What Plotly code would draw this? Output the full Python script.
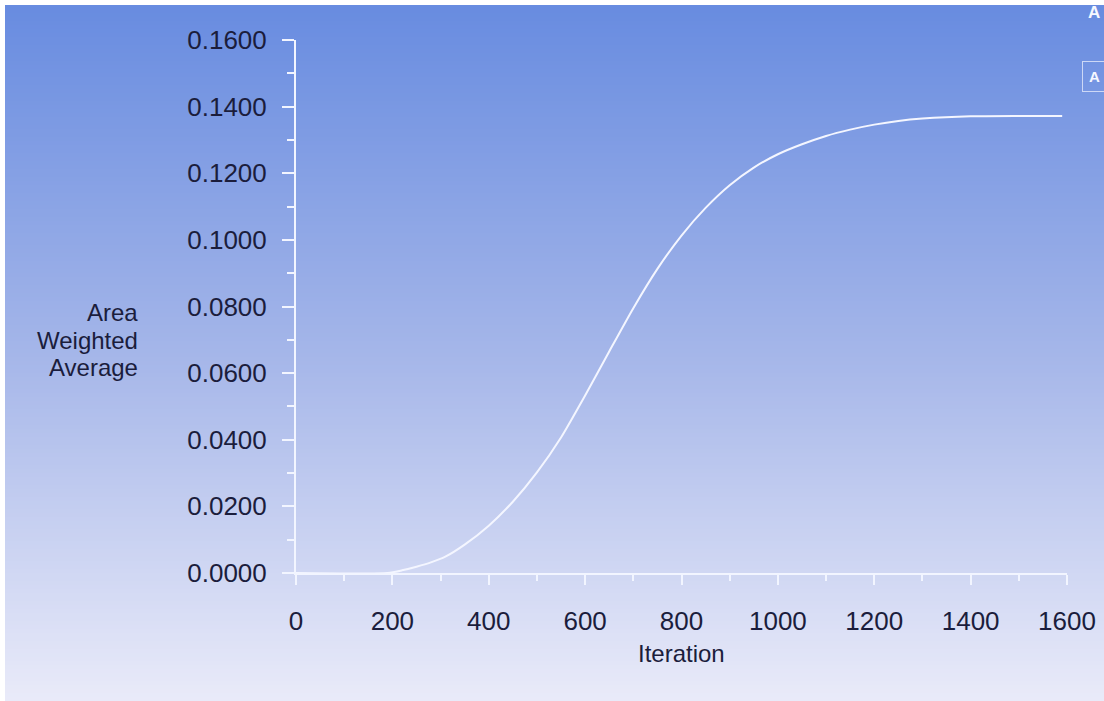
import plotly.graph_objects as go

# Convergence history of the monitored surface quantity
iterations = [0, 190, 220, 250, 280, 310, 350, 400, 450, 500, 550, 600, 650,
              700, 750, 800, 850, 900, 950, 1000, 1050, 1100, 1150, 1200,
              1250, 1300, 1400, 1500, 1590]
area_weighted_avg = [0.0, 0.0, 0.0008, 0.0019, 0.0032, 0.0049, 0.0085, 0.0142,
                     0.0214, 0.0302, 0.0407, 0.0533, 0.0665, 0.0795, 0.0913,
                     0.1013, 0.1096, 0.1164, 0.1217, 0.1257, 0.1287, 0.1312,
                     0.1331, 0.1346, 0.1357, 0.1364, 0.1371, 0.1372, 0.1372]

x_ticks = [0, 200, 400, 600, 800, 1000, 1200, 1400, 1600]
y_ticks = [0.0, 0.02, 0.04, 0.06, 0.08, 0.10, 0.12, 0.14, 0.16]
y_title_lines = ["Area", "Weighted", "Average"]
x_title = "Iteration"

W, H = 1104, 701
ML, MR, MT, MB = 296, 37, 40, 128
PW, PH = W - ML - MR, H - MT - MB

FONT = "Liberation Sans, Arial, sans-serif"
TEXT_COL = "#1b1d3c"
AXIS_COL = "#f2f5ff"


def px_x(px):
    return (px - ML) / PW


def px_y(py):
    return (H - MB - py) / PH


# vertical blue-to-white background gradient drawn as thin bands
stops = [(0.0, (104, 140, 224)), (0.5, (165, 182, 233)), (1.0, (234, 235, 249))]


def grad(t):
    for (t0, c0), (t1, c1) in zip(stops[:-1], stops[1:]):
        if t0 <= t <= t1:
            f = (t - t0) / (t1 - t0)
            return tuple(round(a + (b - a) * f) for a, b in zip(c0, c1))
    return stops[-1][1]


shapes = []
top, bottom, band = 5, H, 4
y0 = top
while y0 < bottom:
    y1 = min(y0 + band, bottom)
    r, g, b = grad((y0 - top) / (bottom - top))
    shapes.append(dict(type="rect", xref="paper", yref="paper",
                       x0=px_x(5), x1=px_x(W + 2), y0=px_y(y1 + 0.5), y1=px_y(y0),
                       fillcolor=f"rgb({r},{g},{b})", line=dict(width=0),
                       layer="below"))
    y0 = y1

fig = go.Figure()
fig.add_trace(go.Scatter(
    x=iterations, y=area_weighted_avg, mode="lines",
    line=dict(color="#f4f6ff", width=2, shape="spline", smoothing=0.6),
    hoverinfo="skip", showlegend=False,
))

annotations = []
# stacked y-axis title, right aligned
for i, line in enumerate(y_title_lines):
    annotations.append(dict(
        text=line, xref="paper", yref="paper",
        x=px_x(140), y=px_y(322 + 27.5 * i),
        xanchor="right", yanchor="bottom", showarrow=False,
        font=dict(family=FONT, size=24, color=TEXT_COL),
        yshift=-6,
    ))
annotations.append(dict(
    text=x_title, xref="paper", yref="paper",
    x=0.5, y=px_y(663), xanchor="center", yanchor="bottom", showarrow=False,
    font=dict(family=FONT, size=24, color=TEXT_COL), yshift=-6,
))
# legend markers at the right edge
annotations.append(dict(
    text="<b>A</b>", xref="paper", yref="paper", x=px_x(1094), y=px_y(12),
    xanchor="center", yanchor="middle", showarrow=False,
    font=dict(family=FONT, size=17, color="#f6f8ff"),
))
annotations.append(dict(
    text="<b>A</b>", xref="paper", yref="paper", x=px_x(1094), y=px_y(76),
    xanchor="center", yanchor="middle", showarrow=False,
    font=dict(family=FONT, size=15, color="#f6f8ff"),
    bordercolor="#cdd8f6", borderwidth=1, borderpad=6,
))

fig.update_layout(
    width=W, height=H,
    margin=dict(l=ML, r=MR, t=MT, b=MB, pad=0),
    paper_bgcolor="white", plot_bgcolor="rgba(0,0,0,0)",
    shapes=shapes, annotations=annotations,
    xaxis=dict(
        range=[0, 1600], tickvals=x_ticks, ticktext=[str(v) for v in x_ticks],
        showgrid=False, zeroline=False, showline=True, linecolor=AXIS_COL,
        linewidth=2, ticks="outside", ticklen=10, tickwidth=2,
        tickcolor=AXIS_COL, ticklabelstandoff=14, automargin=False,
        tickfont=dict(family=FONT, size=26, color=TEXT_COL),
        minor=dict(dtick=100, ticks="outside", ticklen=6, tickwidth=2,
                   tickcolor=AXIS_COL, showgrid=False),
    ),
    yaxis=dict(
        range=[0, 0.16], tickvals=y_ticks,
        ticktext=[f"{v:.4f}" for v in y_ticks],
        showgrid=False, zeroline=False, showline=True, linecolor=AXIS_COL,
        linewidth=2, ticks="outside", ticklen=12, tickwidth=2,
        tickcolor=AXIS_COL, ticklabelstandoff=10, automargin=False,
        tickfont=dict(family=FONT, size=26, color=TEXT_COL),
        minor=dict(dtick=0.01, ticks="outside", ticklen=7, tickwidth=2,
                   tickcolor=AXIS_COL, showgrid=False),
    ),
)

fig.write_html("out.html")
